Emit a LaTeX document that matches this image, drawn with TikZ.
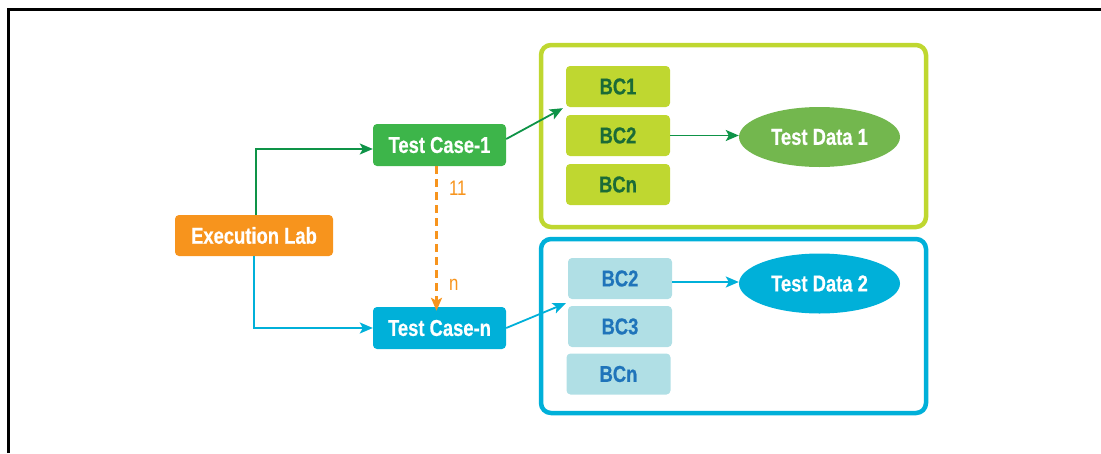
\documentclass[tikz,border=0pt]{standalone}
\usepackage{fontspec}
\setmainfont{Liberation Sans}[FakeStretch=0.8, BoldFeatures={FakeBold=0.6}]
\usetikzlibrary{arrows.meta,shapes.geometric}
\definecolor{labOrange}{HTML}{F7941D}
\definecolor{caseGreen}{HTML}{3DB54A}
\definecolor{caseBlue}{HTML}{00B0D9}
\definecolor{lime}{HTML}{BFD730}
\definecolor{deepGreen}{HTML}{1B6B37}
\definecolor{arrowGreen}{HTML}{0E9347}
\definecolor{dataGreen}{HTML}{73B74E}
\definecolor{paleBlue}{HTML}{B0DFE5}
\definecolor{bcBlue}{HTML}{1F74BA}
\begin{document}
\begin{tikzpicture}[x=1pt,y=-1pt,
  box/.style={rounded corners=4pt, inner sep=0pt, text=white,
    font=\fontsize{23}{26}\selectfont\bfseries},
  casebox/.style={box, minimum width=133pt, minimum height=42pt},
  bcgreen/.style={box, fill=lime, text=deepGreen, minimum width=104pt, minimum height=41pt},
  bcblue/.style={box, fill=paleBlue, text=bcBlue, minimum width=104pt, minimum height=41pt},
  datanode/.style={ellipse, inner sep=0pt, minimum width=161pt, minimum height=60pt,
    text=white, font=\fontsize{23}{26}\selectfont\bfseries},
  frame/.style={rounded corners=10pt, line width=4.5pt},
  link/.style={line width=1.8pt, -{Stealth[length=13pt,width=11pt,inset=3pt]}},
  note/.style={text=labOrange, font=\fontsize{21}{24}\selectfont}]
\useasboundingbox (0,0) rectangle (1101,453);
% page edge lines
\draw[line width=3pt] (8,453) -- (8,9.5) -- (1101,9.5);

% group frames
\draw[frame, draw=lime] (541,45) rectangle (926,227);
\draw[frame, draw=caseBlue] (541,239) rectangle (926,413);

% main nodes
\node[box, fill=labOrange, minimum width=158pt, minimum height=41pt] (lab) at (254,235.5) {Execution Lab};
\node[casebox, fill=caseGreen] (tc1) at (439.5,145) {Test Case-1};
\node[casebox, fill=caseBlue] (tcn) at (439.5,328) {Test Case-n};

% first group
\node[bcgreen] (g1) at (618,86.5) {BC1};
\node[bcgreen] (g2) at (618,135.5) {BC2};
\node[bcgreen] (g3) at (618,184.5) {BCn};
\node[datanode, fill=dataGreen] (d1) at (819.5,137) {Test Data 1};

% second group
\node[bcblue] (b1) at (620,278.5) {BC2};
\node[bcblue] (b2) at (620,326.5) {BC3};
\node[bcblue] (b3) at (618.5,374) {BCn};
\node[datanode, fill=caseBlue] (d2) at (819.5,283.5) {Test Data 2};

% connectors
\coordinate (labTop) at ([xshift=2pt]lab.north);
\coordinate (labBot) at (lab.south);
\draw[link, arrowGreen] (labTop) |- ([yshift=-4pt]tc1.west);
\draw[link, caseBlue] (labBot) |- (tcn.west);
\draw[link, labOrange, line width=2.4pt, dash pattern=on 8pt off 5pt]
  ([xshift=-3pt]tc1.south) -- ([xshift=-3pt,yshift=-4pt]tcn.north)
  node[note, pos=0.15, right=8pt] {11}
  node[note, pos=0.82, right=8pt] {n};
\draw[link, arrowGreen] ([yshift=6pt]tc1.east) -- ([xshift=-3pt,yshift=-1pt]g1.south west);
\draw[link, arrowGreen] (g2.east) -- (g2.east -| d1.west);
\draw[link, caseBlue] (tcn.east) -- ([xshift=-2pt,yshift=-4pt]b1.south west);
\draw[link, caseBlue] ([yshift=-3.5pt]b1.east) -- ([yshift=-3.5pt]b1.east -| d2.west);
\end{tikzpicture}
\end{document}
